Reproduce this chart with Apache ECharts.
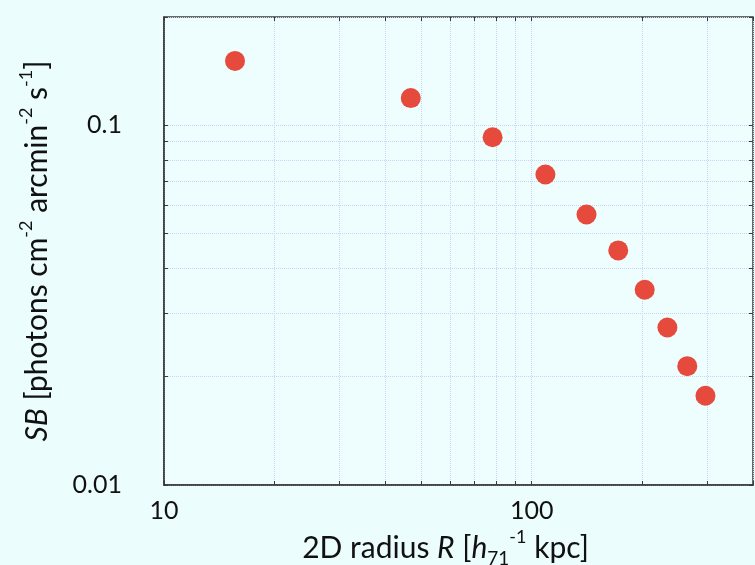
<!DOCTYPE html>
<html>
<head>
<meta charset="utf-8">
<script src="https://cdn.jsdelivr.net/npm/echarts@6/dist/echarts.min.js"></script>
<style>
  html, body { margin: 0; padding: 0; background: #ebfdfd; }
  #chart { width: 755px; height: 565px; }
</style>
</head>
<body>
<div id="chart"></div>
<script>
// surface brightness profile
var radius = [15.6, 46.9, 78.3, 109, 141, 172, 203, 234, 265, 297];
var sb = [0.151, 0.119, 0.0926, 0.0730, 0.0565, 0.0449, 0.0349, 0.0274, 0.0214, 0.0177];

var xTicks = [10, 20, 30, 40, 50, 60, 70, 80, 90, 100, 200, 300, 400];
var xLabels = [10, 100];
var yTicks = [0.01, 0.02, 0.03, 0.04, 0.05, 0.06, 0.07, 0.08, 0.09, 0.1, 0.2];
var yLabels = [0.01, 0.1];

var font = "Lato, 'Open Sans', sans-serif";
var gridColor = "#c6d6f2";
var frameColor = "#3a3a3a";

var chart = echarts.init(document.getElementById("chart"));

var points = radius.map(function (r, i) { return [r, sb[i]]; });

function richStyles(size) {
  return {
    t: { fontSize: size, fontFamily: font, color: "#111", lineHeight: 40 },
    i: { fontSize: size, fontFamily: font, color: "#111", fontStyle: "italic", lineHeight: 40 },
    sup: { fontSize: 18, fontFamily: font, color: "#111", lineHeight: 18, verticalAlign: "top" },
    sub: { fontSize: 19, fontFamily: font, color: "#111", lineHeight: 19, verticalAlign: "bottom" }
  };
}

chart.setOption({
  backgroundColor: "#ebfdfd",
  animation: false,
  grid: {
    left: 164,
    right: 2,
    top: 17,
    bottom: 80,
    containLabel: false,
    outerBoundsMode: "none",
    show: true,
    backgroundColor: "#eefefe",
    borderColor: frameColor,
    borderWidth: 1.5
  },
  xAxis: [
    {
      type: "log",
      min: 10,
      max: 400,
      name: "{t|2D radius }{i|R}{t| [}{i|h}{sub|71}{sup|-1}{t| kpc]}",
      nameLocation: "middle",
      nameGap: 35,
      nameTextStyle: { padding: [0, 26, 0, 0], rich: richStyles(30) },
      axisLine: { show: true, lineStyle: { color: frameColor, width: 1.5 } },
      axisTick: { show: true, inside: true, length: 4, customValues: xTicks, lineStyle: { color: frameColor } },
      axisLabel: { customValues: xLabels, margin: 13, fontSize: 25, fontFamily: font, color: "#111" },
      splitLine: { show: true, lineStyle: { color: gridColor, type: "dotted", width: 1 } }
    },
    {
      type: "log",
      min: 10,
      max: 400,
      position: "top",
      axisLine: { show: false },
      axisTick: { show: true, inside: true, length: 4, customValues: xTicks, lineStyle: { color: frameColor } },
      axisLabel: { show: false },
      splitLine: { show: false }
    }
  ],
  yAxis: [
    {
      type: "log",
      min: 0.01,
      max: 0.2,
      name: "{i|SB}{t| [photons cm}{sup|-2}{t| arcmin}{sup|-2}{t| s}{sup|-1}{t|]}",
      nameLocation: "middle",
      nameRotate: 90,
      nameGap: 107,
      nameTextStyle: { rich: richStyles(30) },
      axisLine: { show: true, lineStyle: { color: frameColor, width: 1.5 } },
      axisTick: { show: true, inside: true, length: 4, customValues: yTicks, lineStyle: { color: frameColor } },
      axisLabel: { customValues: yLabels, margin: 42, fontSize: 25, fontFamily: font, color: "#111" },
      splitLine: { show: true, lineStyle: { color: gridColor, type: "dotted", width: 1 } }
    },
    {
      type: "log",
      min: 0.01,
      max: 0.2,
      position: "right",
      axisLine: { show: false },
      axisTick: { show: true, inside: true, length: 4, customValues: yTicks, lineStyle: { color: frameColor } },
      axisLabel: { show: false },
      splitLine: { show: false }
    }
  ],
  series: [
    {
      type: "scatter",
      data: points,
      symbolSize: 20,
      itemStyle: { color: "#e64a3d", opacity: 1 }
    }
  ]
});
</script>
</body>
</html>
